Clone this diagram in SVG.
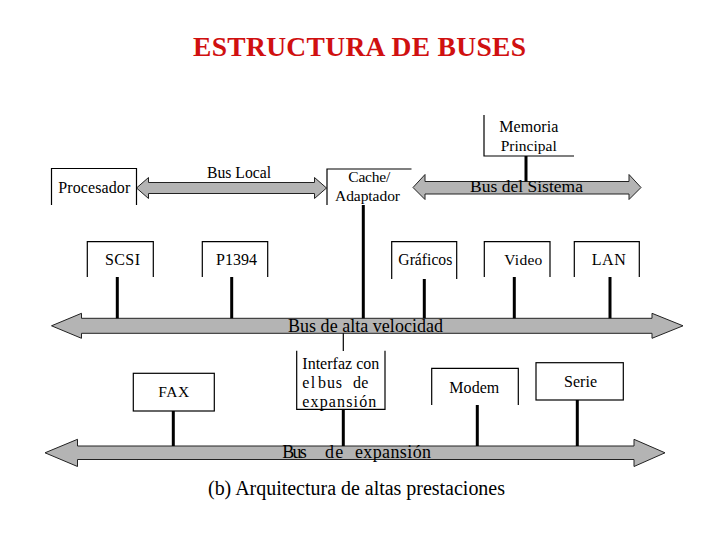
<svg xmlns="http://www.w3.org/2000/svg" width="720" height="540" viewBox="0 0 720 540">
<style>
.t{font-family:"Liberation Serif","Times New Roman",serif;fill:#000}
.box{fill:none;stroke:#000;stroke-width:1.2}
.bus{fill:#b4b4b4;stroke:#222;stroke-width:1}
.c{stroke:#000;stroke-width:3;fill:none}
.ct{stroke:#000;stroke-width:1.2;fill:none}
</style>
<rect width="720" height="540" fill="#fff"/>
<text x="193" y="56" font-family="Liberation Serif, Times New Roman, serif" font-weight="bold" font-size="27.5" fill="#d01010" textLength="333">ESTRUCTURA DE BUSES</text>

<g id="connectors">
<polygon id="bus-local" class="bus" points="136.5,188 148.5,177.5 148.5,182.5 314.5,182.5 314.5,177.5 326.5,188 314.5,198.5 314.5,193.5 148.5,193.5 148.5,198.5"/>
<polygon id="bus-sistema" class="bus" points="413,187.5 425,174.5 425,181.5 629,181.5 629,174.5 641,187.5 629,199.5 629,194 425,194 425,199.5"/>
<polygon id="bus-alta" class="bus" points="51.5,325.8 81.5,313.3 81.5,318.3 652,318.3 652,313.3 683,325.8 652,338.3 652,333.3 81.5,333.3 81.5,338.3"/>
<polygon id="bus-exp" class="bus" points="45,452.8 77.5,439.3 77.5,446 634,446 634,439.3 665,452.8 634,466.5 634,459.5 77.5,459.5 77.5,466.5"/>
<line class="c" x1="526" y1="156" x2="526" y2="181.5"/>
<line class="c" x1="363.3" y1="205" x2="363.3" y2="318.3"/>
<line class="c" x1="117.3" y1="277" x2="117.3" y2="318.3"/>
<line class="c" x1="231.7" y1="277" x2="231.7" y2="318.3"/>
<line class="c" x1="424.3" y1="279" x2="424.3" y2="318.3"/>
<line class="c" x1="514.3" y1="277" x2="514.3" y2="318.3"/>
<line class="c" x1="610" y1="277" x2="610" y2="318.3"/>
<line class="ct" x1="343.3" y1="333.3" x2="343.3" y2="351"/>
<line class="c" x1="343.3" y1="409.3" x2="343.3" y2="446"/>
<line class="c" x1="173.3" y1="411" x2="173.3" y2="446"/>
<line class="c" x1="477.3" y1="405" x2="477.3" y2="446"/>
<line class="c" x1="577.3" y1="400" x2="577.3" y2="446"/>
<text class="t" x="207" y="177.5" font-size="15.7" textLength="64">Bus Local</text>
<text class="t" x="470" y="192.3" font-size="17.5" textLength="113">Bus del Sistema</text>
<text class="t" x="288" y="332" font-size="18" textLength="155">Bus de alta velocidad</text>
<text class="t" x="282.3" y="457.5" font-size="18" textLength="24.4">Bus</text>
<text class="t" x="325" y="457.5" font-size="18" textLength="18.3">de</text>
<text class="t" x="355" y="457.5" font-size="18" textLength="76">expansión</text>
</g>

<g id="procesador">
<path class="box" d="M51.5,205 V168.5 H136.5 V205"/>
<text class="t" x="58.3" y="192.5" font-size="16" textLength="72">Procesador</text>
</g>
<g id="cache">
<path class="box" d="M327,205 V169 H411.5"/>
<text class="t" x="348.3" y="182" font-size="15.5" textLength="42">Cache/</text>
<text class="t" x="335" y="200.5" font-size="15.5" textLength="65">Adaptador</text>
</g>
<g id="memoria">
<path class="box" d="M484,115 V156 H574"/>
<text class="t" x="499.3" y="132" font-size="16" textLength="59">Memoria</text>
<text class="t" x="500.7" y="150.5" font-size="15.5" textLength="56">Principal</text>
</g>
<g id="scsi">
<path class="box" d="M87.3,277 V241.7 H153.3 V277"/>
<text class="t" x="105" y="265" font-size="16" textLength="35">SCSI</text>
</g>
<g id="p1394">
<path class="box" d="M202.3,277 V241.7 H267.7 V277"/>
<text class="t" x="216" y="265" font-size="16" textLength="41">P1394</text>
</g>
<g id="graficos">
<path class="box" d="M391.7,279 V241.7 H456.7 V279"/>
<text class="t" x="398.3" y="265" font-size="15.7" textLength="54">Gráficos</text>
</g>
<g id="video">
<path class="box" d="M484.3,277 V241.7 H550 V277"/>
<text class="t" x="504.3" y="265" font-size="15.5" textLength="38">Video</text>
</g>
<g id="lan">
<path class="box" d="M574.3,277 V241.7 H639.3 V277"/>
<text class="t" x="591.7" y="265" font-size="16" textLength="34">LAN</text>
</g>
<g id="interfaz">
<path class="box" d="M296.7,350.7 V409.3 H385 V350.7"/>
<text class="t" x="302.3" y="369" font-size="16" textLength="77">Interfaz con</text>
<text class="t" x="302.3" y="388.3" font-size="16" textLength="13">el</text>
<text class="t" x="318" y="388.3" font-size="16" textLength="24">bus</text>
<text class="t" x="353" y="388.3" font-size="16" textLength="15.3">de</text>
<text class="t" x="302.3" y="407.3" font-size="16" textLength="74">expansión</text>
</g>
<g id="fax">
<rect class="box" x="133.3" y="373.3" width="81" height="37.7"/>
<text class="t" x="158.3" y="397.3" font-size="15.5" textLength="31">FAX</text>
</g>
<g id="modem">
<path class="box" d="M431.7,405 V368.3 H518.3 V405"/>
<text class="t" x="449.3" y="393" font-size="16" textLength="50">Modem</text>
</g>
<g id="serie">
<rect class="box" x="536" y="362.7" width="87.3" height="37.3"/>
<text class="t" x="564" y="387" font-size="16" textLength="33">Serie</text>
</g>
<text class="t" x="208" y="495" font-size="20" textLength="297">(b) Arquitectura de altas prestaciones</text>
</svg>
